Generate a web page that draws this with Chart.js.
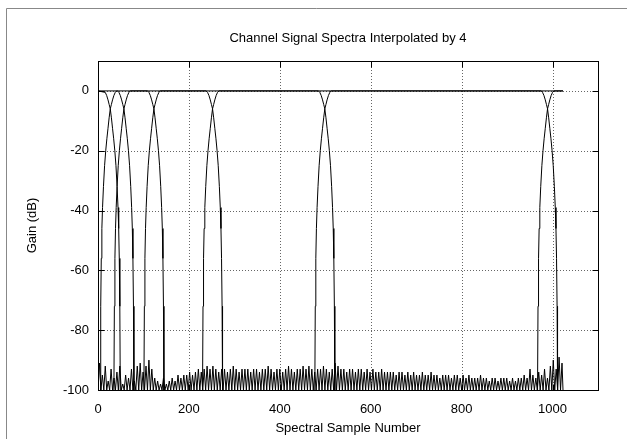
<!DOCTYPE html>
<html><head><meta charset="utf-8">
<script src="https://cdn.jsdelivr.net/npm/chart.js@4"></script>
<style>html,body{margin:0;padding:0;background:#fff}canvas{display:block}</style>
</head><body>
<canvas id="c" width="627" height="439"></canvas>
<script>
const chartTitle = 'Channel Signal Spectra Interpolated by 4';
const xTitle = 'Spectral Sample Number';
const yTitle = 'Gain (dB)';
const xTicks = [0, 200, 400, 600, 800, 1000];
const yTicks = [-100, -80, -60, -40, -20, 0];

// channel band boundaries (-6 dB crossing points), in samples
const bandEdges = [0, 27, 57, 123, 252, 499, 989, 1023];

// transition shape: offset from crossing (samples) -> gain (dB), falling side
const edgeOffset = [-14, -11, -8, -5, -2.5, 0, 2.5, 5, 7.5, 10, 12.5, 15, 17, 18.5, 19.8, 21, 22];
const edgeGain   = [0, -0.5, -1.5, -3, -4.5, -6, -9, -12.5, -16, -20, -25, -32, -39, -46, -56, -72, -100];

// full-band 0 dB line
const totalX = [0, 1023];
const totalY = [0, 0];

// stop-band ripple: peak value of each ripple (one per 6.4 samples)
const floorStep = 6.4;
const floorTrough = -100;
const floorPeaks = [
 -91,-95,-92,-97,-93,-96,-94,-92,-98,-95,
 -96,-93,-97,-92,-91,-94,-92,-90,-93,-96,
 -97,-98,-96,-98,-97,-96,-97,-95,-96,-95,
 -95,-94,-95,-94,-93,-94,-93,-92,-93,-92,
 -93,-94,-93,-93,-94,-93,-92,-93,-94,-93,
 -93,-93,-94,-93,-93,-94,-93,-93,-92,-93,
 -94,-93,-93,-94,-93,-92,-93,-94,-93,-93,
 -92,-93,-92,-93,-94,-93,-93,-92,-93,-94,
 -93,-91,-92,-93,-93,-94,-93,-93,-94,-93,
 -93,-94,-93,-94,-93,-94,-94,-93,-94,-94,
 -94,-94,-95,-94,-94,-95,-94,-95,-94,-95,
 -95,-94,-95,-95,-94,-95,-95,-96,-95,-95,
 -95,-96,-95,-95,-96,-95,-96,-95,-96,-96,
 -96,-95,-96,-96,-97,-96,-96,-97,-96,-96,
 -96,-97,-96,-97,-96,-96,-95,-96,-93,-95,
 -96,-94,-95,-93,-96,-92,-90,-93,-89,-91
];

// ---- build datasets from the arrays ----
function channelPoints(k) {
  const L = bandEdges[k], R = bandEdges[k + 1], mid = (L + R) / 2;
  const pts = [];
  if (k === 0) pts.push({x: 0, y: 0});
  else {
    for (let i = edgeOffset.length - 1; i >= 0; i--) {
      const x = L - edgeOffset[i];
      if (x <= mid) pts.push({x, y: edgeGain[i]});
    }
  }
  if (k === bandEdges.length - 2) pts.push({x: R, y: 0});
  else {
    for (let i = 0; i < edgeOffset.length; i++) {
      const x = R + edgeOffset[i];
      if (x > mid) pts.push({x, y: edgeGain[i]});
    }
  }
  return pts;
}
const floorPts = [];
floorPeaks.forEach((p, i) => {
  floorPts.push({x: i * floorStep, y: floorTrough});
  floorPts.push({x: i * floorStep + floorStep / 2, y: p});
});
floorPts.push({x: 1023, y: floorTrough});

const lineStyle = {borderColor: '#000', borderWidth: 1, pointRadius: 0, tension: 0, fill: false};
const datasets = [{data: floorPts, ...lineStyle}];
for (let k = 0; k < bandEdges.length - 1; k++) datasets.push({data: channelPoints(k), ...lineStyle});
datasets.push({data: totalX.map((x, i) => ({x, y: totalY[i]})), ...lineStyle});

const FONT = 'Liberation Sans, Arial, Helvetica, sans-serif';

const deco = {
  id: 'deco',
  beforeDraw(chart) {
    const ctx = chart.ctx;
    ctx.save();
    ctx.fillStyle = '#fff';
    ctx.fillRect(0, 0, chart.width, chart.height);
    ctx.strokeStyle = '#888';
    ctx.lineWidth = 1;
    ctx.beginPath();
    ctx.moveTo(6.5, chart.height); ctx.lineTo(6.5, 8.5); ctx.lineTo(chart.width, 8.5);
    ctx.stroke();
    ctx.restore();
  },
  beforeDatasetsDraw(chart) {
    const {ctx, chartArea: a, scales: {x, y}} = chart;
    ctx.save();
    ctx.strokeStyle = '#666';
    ctx.lineWidth = 1;
    ctx.setLineDash([1, 2]);
    ctx.beginPath();
    xTicks.forEach(v => { const px = Math.round(x.getPixelForValue(v)) + 0.5; ctx.moveTo(px, a.top); ctx.lineTo(px, a.bottom); });
    yTicks.forEach(v => { const py = Math.round(y.getPixelForValue(v)) + 0.5; ctx.moveTo(a.left, py); ctx.lineTo(a.right, py); });
    ctx.stroke();
    ctx.restore();
  },
  afterDatasetsDraw(chart) {
    const {ctx, chartArea: a, scales: {x, y}} = chart;
    ctx.save();
    ctx.strokeStyle = '#000';
    ctx.lineWidth = 1;
    const L = Math.round(a.left) + 0.5, R = Math.round(a.right) + 0.5, T = Math.round(a.top) + 0.5, B = Math.round(a.bottom) + 0.5;
    ctx.strokeRect(L, T, R - L, B - T);
    const tl = 6;
    ctx.beginPath();
    xTicks.forEach(v => { const px = Math.round(x.getPixelForValue(v)) + 0.5; ctx.moveTo(px, B); ctx.lineTo(px, B - tl); ctx.moveTo(px, T); ctx.lineTo(px, T + tl); });
    yTicks.forEach(v => { const py = Math.round(y.getPixelForValue(v)) + 0.5; ctx.moveTo(L, py); ctx.lineTo(L + tl, py); ctx.moveTo(R, py); ctx.lineTo(R - tl, py); });
    ctx.stroke();
    ctx.fillStyle = '#000';
    ctx.font = '13px ' + FONT;
    ctx.textAlign = 'center';
    ctx.textBaseline = 'middle';
    const cx = (a.left + a.right) / 2;
    ctx.fillText(chartTitle, cx, 38);
    ctx.fillText(xTitle, cx, 428);
    ctx.translate(32, (a.top + a.bottom) / 2);
    ctx.rotate(-Math.PI / 2);
    ctx.fillText(yTitle, 0, 0);
    ctx.restore();
  }
};

new Chart(document.getElementById('c'), {
  type: 'line',
  data: {datasets},
  plugins: [deco],
  options: {
    responsive: false, animation: false, devicePixelRatio: 1,
    layout: {padding: {left: 0, right: 29, top: 61, bottom: 0}},
    plugins: {legend: {display: false}, tooltip: {enabled: false}, title: {display: false}},
    scales: {
      x: {
        type: 'linear', min: 0, max: 1100,
        afterBuildTicks: s => { s.ticks = xTicks.map(v => ({value: v})); },
        afterFit: s => { s.height = 49; },
        grid: {display: false, drawTicks: false}, border: {display: false},
        ticks: {padding: 12, color: '#000', font: {family: FONT, size: 13}, maxRotation: 0, callback: v => String(v)}
      },
      y: {
        type: 'linear', min: -100, max: 10,
        afterBuildTicks: s => { s.ticks = yTicks.map(v => ({value: v})); },
        afterFit: s => { s.width = 98; },
        grid: {display: false, drawTicks: false}, border: {display: false},
        ticks: {padding: 9, color: '#000', font: {family: FONT, size: 13}, callback: v => String(v)}
      }
    }
  }
});
</script>
</body></html>
